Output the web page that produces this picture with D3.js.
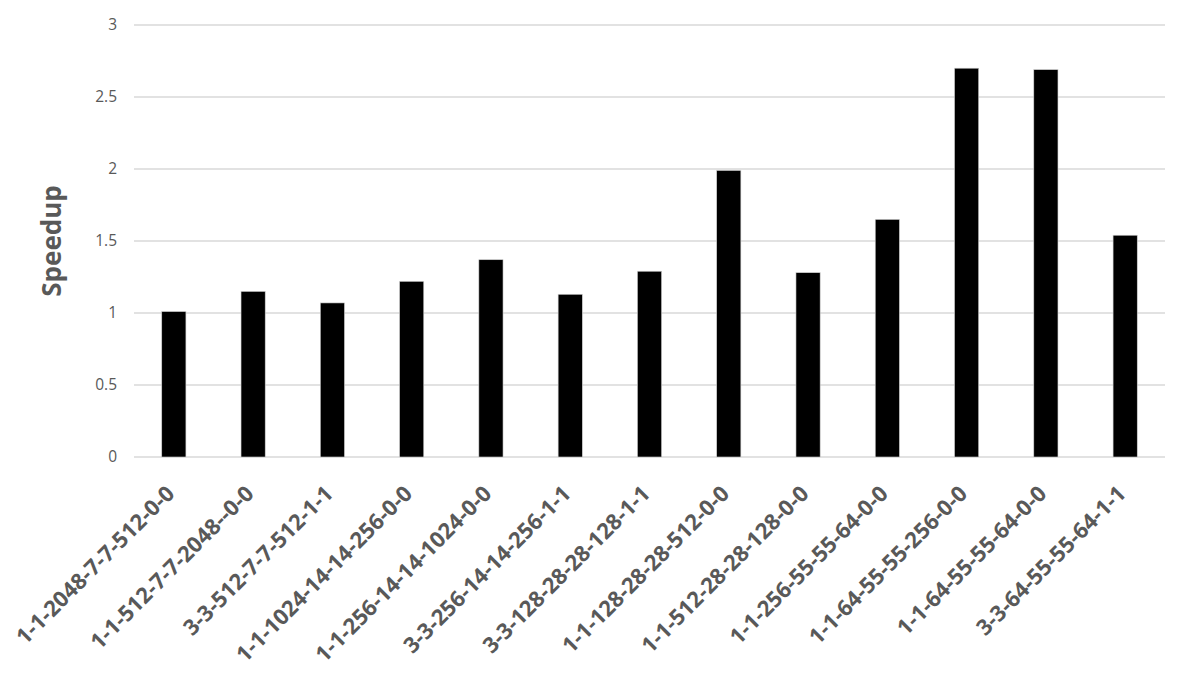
<!DOCTYPE html>
<html>
<head>
<meta charset="utf-8">
<script src="https://cdn.jsdelivr.net/npm/d3@7"></script>
<style>
  body { margin: 0; background: #fff; }
  svg text { font-family: "Open Sans", "Liberation Sans", sans-serif; fill: #595959; }
</style>
</head>
<body>
<div id="chart"></div>
<script>
// configurations (kernel-kernel-channels-h-w-filters-pad-pad)
const configs = [
	"1-1-2048-7-7-512-0-0", "1-1-512-7-7-2048--0-0", "3-3-512-7-7-512-1-1",
	"1-1-1024-14-14-256-0-0", "1-1-256-14-14-1024-0-0", "3-3-256-14-14-256-1-1",
	"3-3-128-28-28-128-1-1", "1-1-128-28-28-512-0-0", "1-1-512-28-28-128-0-0",
	"1-1-256-55-55-64-0-0", "1-1-64-55-55-256-0-0", "1-1-64-55-55-64-0-0",
	"3-3-64-55-55-64-1-1"
];
const speedup = [1.01, 1.15, 1.07, 1.22, 1.37, 1.13, 1.29, 1.99, 1.28, 1.65, 2.70, 2.69, 1.54];
const yTicks = [0, 0.5, 1, 1.5, 2, 2.5, 3];

const width = 1187;
const height = 679;
const margin = { top: 25, right: 22, bottom: 222, left: 134 };

const svg = d3.select("#chart")
	.append("svg")
	.attr("width", width)
	.attr("height", height);

const x = d3.scaleBand()
	.domain(configs)
	.range([margin.left, width - margin.right])
	.paddingInner(0.695)
	.paddingOuter(0.35);

const y = d3.scaleLinear()
	.domain([0, 3])
	.range([height - margin.bottom, margin.top]);

/*
Gridlines and y labels
*/
svg.append("g")
	.selectAll("line")
	.data(yTicks)
	.enter()
	.append("line")
	.attr("x1", margin.left)
	.attr("x2", width - margin.right)
	.attr("y1", (d) => y(d))
	.attr("y2", (d) => y(d))
	.attr("stroke", "#d9d9d9")
	.attr("stroke-width", 1.3);

svg.append("g")
	.selectAll("text")
	.data(yTicks)
	.enter()
	.append("text")
	.attr("x", 117)
	.attr("y", (d) => y(d))
	.attr("dy", "0.35em")
	.attr("text-anchor", "end")
	.style("font-size", "15.5px")
	.text((d) => d);

svg.append("text")
	.attr("transform", `translate(61, ${(y(0) + y(3)) / 2}) rotate(-90)`)
	.attr("text-anchor", "middle")
	.style("font-size", "26px")
	.style("font-weight", "bold")
	.text("Speedup");

/*
Bars
*/
svg.append("g")
	.selectAll("rect")
	.data(speedup)
	.enter()
	.append("rect")
	.attr("x", (d, i) => x(configs[i]))
	.attr("y", (d) => y(d))
	.attr("width", x.bandwidth())
	.attr("height", (d) => y(0) - y(d))
	.attr("fill", "#000")
	.attr("stroke", "#d0d0d0")
	.attr("stroke-width", 0.6);

/*
Category labels
*/
svg.append("g")
	.selectAll("text")
	.data(configs)
	.enter()
	.append("text")
	.attr("transform", (d) => `translate(${x(d) + x.bandwidth() / 2 + 2}, ${y(0) + 38}) rotate(-45)`)
	.attr("text-anchor", "end")
	.style("font-size", "22px")
	.style("font-weight", "bold")
	.text((d) => d);
</script>
</body>
</html>
